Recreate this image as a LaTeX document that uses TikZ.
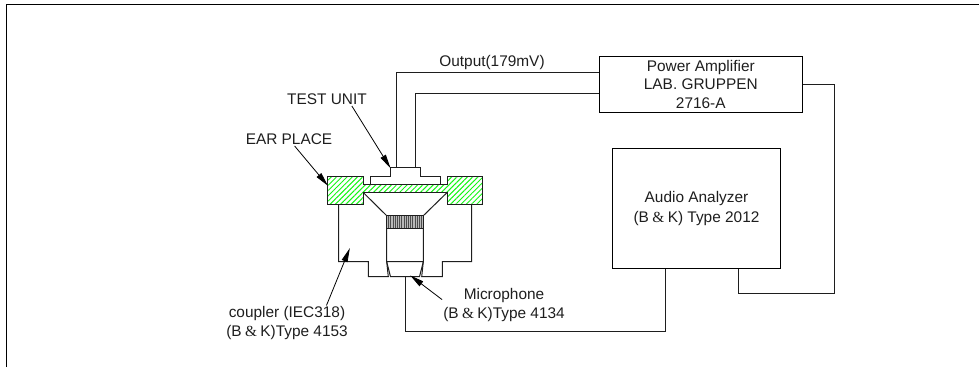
\documentclass[tikz,border=0pt]{standalone}
\usepackage{fontspec}
\setmainfont{Liberation Sans}
\newfontfamily\ampfont{Liberation Serif}
\usepackage{xcolor}
\usetikzlibrary{calc,arrows.meta,patterns.meta}
\definecolor{hatchgreen}{RGB}{20,245,20}
\definecolor{inkgray}{RGB}{30,30,30}
\newcommand{\bkname}{(B\kern3.4pt{\ampfont\&}\kern3.4pt K)}
\tikzset{
  labeltext/.style={font=\fontsize{15.4}{18.4}\selectfont, text=inkgray, align=center, inner sep=1pt},
  unitbox/.style={draw=black, line width=1pt, inner sep=0pt, labeltext},
  wire/.style={draw=inkgray, line width=1pt},
  pointer/.style={draw=black, line width=0.8pt, -{Triangle[length=14pt,width=6pt]}, shorten >=-1pt}
}
\begin{document}
\begin{tikzpicture}[x=1pt, y=-1pt]
  \useasboundingbox (0,0) rectangle (979,367);
  \draw[line width=1.5pt] (6.3,367) -- (6.3,4.3) -- (979,4.3);
  % boxes
  \node[unitbox, minimum width=202.5pt, minimum height=56.3pt] (amp) at (700.8,84.2)
    {Power Amplifier\\LAB. GRUPPEN\\2716-A};
  \node[unitbox, minimum width=168.4pt, minimum height=120.7pt] (analyzer) at (696.5,208.6)
    {Audio Analyzer\\[1.6pt]\bkname{} Type 2012};
  % ear place and test unit
  \draw[wire, pattern={Lines[angle=45,distance=3.7pt,line width=1pt]}, pattern color=hatchgreen]
    (327.5,176.5) -- (363,176.5) -- (363,184.5) -- (447.3,184.5) -- (447.3,176.5) -- (482.7,176.5)
    -- (482.7,204.7) -- (447.3,204.7) -- (447.3,192.3) -- (363,192.3) -- (363,204.7) -- (327.5,204.7) -- cycle;
  \draw[wire] (370,184.5) -- (370,176.7) -- (390,176.7) -- (390,167.3) -- (420.7,167.3)
    -- (420.7,176.7) -- (440,176.7) -- (440,184.5);
  % coupler
  \draw[wire] (338.7,204.7) -- (338.7,261.7) -- (368.3,261.7) -- (368.3,276.7) -- (388.3,276.7) -- (386.7,261.7);
  \draw[wire] (471.7,204.7) -- (471.7,261.7) -- (442.3,261.7) -- (442.3,276.7) -- (421.7,276.7) -- (423.3,261.7);
  % microphone
  \draw[wire] (363,192.3) -- (386.7,215.7) -- (386.7,261.7) -- (423.3,261.7) -- (423.3,215.7) -- (447.3,192.3);
  \draw[wire] (386.7,261.7) -- (390.5,276.7) -- (419.5,276.7) -- (423.3,261.7);
  \draw[wire, fill=gray!55] (386.7,215.7) rectangle (423.3,228);
  \foreach \k in {0,...,15} {
    \draw[black!70, line width=0.7pt] ({388.5+\k*2.2},215.7) -- ({388.5+\k*2.2},228);
  }
  % wire ends
  \coordinate (testa) at (396,167.3);
  \coordinate (testb) at (415,167.3);
  \coordinate (ampa) at (amp.west |- 0,72.7);
  \coordinate (ampb) at (amp.west |- 0,93.7);
  \coordinate (micbase) at (405,276.7);
  \coordinate (anaout) at (665,269);
  \coordinate (anaback) at (738,269);
  \coordinate (backcorner) at (834.7,293);
  \draw[wire] (testa) |- (ampa);
  \draw[wire] (testb) |- (ampb);
  \draw[wire] (micbase) |- (anaout |- 0,331.3) -- (anaout);
  \draw[wire] (amp.east) -| (backcorner) -| (anaback);
  % labels
  \node[labeltext] (outlabel) at (492,63) {Output(179mV)};
  \node[labeltext] (testlabel) at (327,99.3) {TEST UNIT};
  \node[labeltext] (earlabel) at (289,139.3) {EAR PLACE};
  \node[labeltext] (couplabel) at (287,323) {coupler (IEC318)\\\bkname{}Type 4153};
  \node[labeltext] (miclabel) at (504,305) {Microphone\\\bkname{}Type 4134};
  \coordinate (testtip) at (390,167.3);
  \coordinate (eartip) at (327.3,185);
  \coordinate (couptip) at (349.5,249);
  \coordinate (mictip) at (411,276);
  \draw[pointer] (testlabel.-15) -- (testtip);
  \draw[pointer] (earlabel) -- (eartip);
  \draw[pointer] (couplabel.24) -- (couptip);
  \draw[pointer] (miclabel.175) -- (mictip);
\end{tikzpicture}
\end{document}
